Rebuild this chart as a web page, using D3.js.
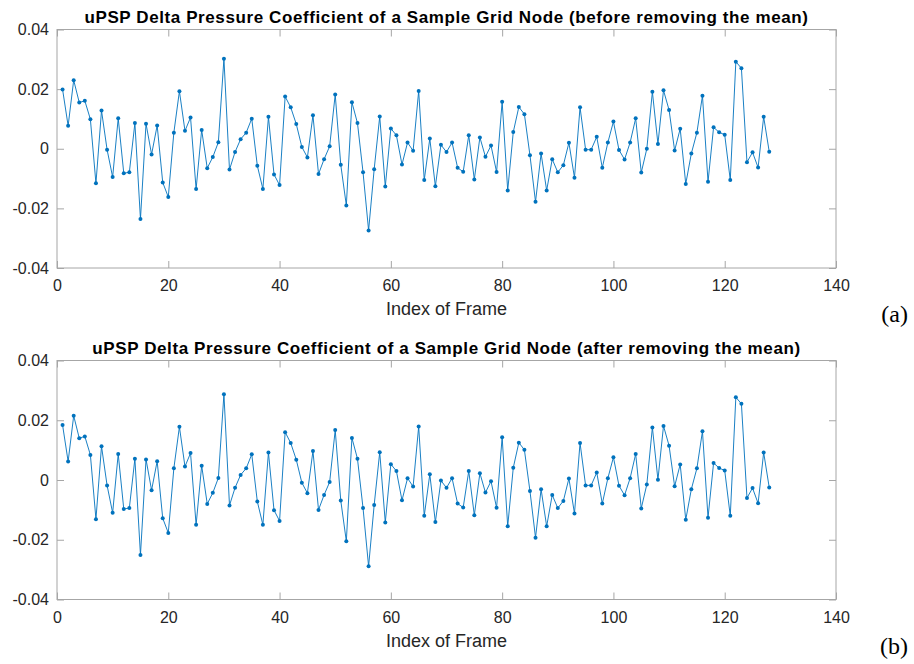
<!DOCTYPE html>
<html><head><meta charset="utf-8">
<script src="https://cdn.jsdelivr.net/npm/d3@7"></script>
<style>
html,body{margin:0;padding:0;background:#fff;}
svg{display:block;}
</style></head>
<body>
<svg id="chart" width="914" height="664"></svg>
<script>
const titles = [
  "uPSP Delta Pressure Coefficient of a Sample Grid Node (before removing the mean)",
  "uPSP Delta Pressure Coefficient of a Sample Grid Node (after removing the mean)"
];
const panelLabels = ["(a)", "(b)"];
const xLabel = "Index of Frame";
const xTicks = [0, 20, 40, 60, 80, 100, 120, 140];
const yTicks = [-0.04, -0.02, 0, 0.02, 0.04];
const yTickLabels = ["-0.04", "-0.02", "0", "0.02", "0.04"];

const beforeMean = [
0.0199,0.0077,0.0230,0.0155,0.0161,0.0099,-0.0116,0.0128,-0.0003,-0.0095,
0.0102,-0.0082,-0.0079,0.0086,-0.0236,0.0084,-0.0019,0.0078,-0.0113,-0.0162,
0.0054,0.0193,0.0060,0.0105,-0.0135,0.0063,-0.0065,-0.0028,0.0022,0.0302,
-0.0070,-0.0011,0.0032,0.0054,0.0101,-0.0057,-0.0135,0.0107,-0.0086,-0.0122,
0.0175,0.0139,0.0083,0.0006,-0.0029,0.0112,-0.0085,-0.0035,0.0008,0.0182,
-0.0054,-0.0190,0.0156,0.0086,-0.0079,-0.0274,-0.0069,0.0108,-0.0127,0.0068,
0.0045,-0.0053,0.0021,-0.0007,0.0194,-0.0105,0.0034,-0.0126,0.0013,-0.0011,
0.0021,-0.0064,-0.0077,0.0045,-0.0103,0.0038,-0.0027,0.0011,-0.0078,0.0158,
-0.0140,0.0056,0.0140,0.0116,-0.0022,-0.0178,-0.0016,-0.0140,-0.0035,-0.0079,
-0.0055,0.0020,-0.0097,0.0139,-0.0003,-0.0003,0.0040,-0.0064,0.0021,0.0091,
-0.0004,-0.0036,0.0021,0.0102,-0.0080,0.0000,0.0191,0.0016,0.0196,0.0130,
-0.0006,0.0067,-0.0118,-0.0016,0.0054,0.0178,-0.0111,0.0072,0.0055,0.0047,
-0.0105,0.0292,0.0270,-0.0045,-0.0012,-0.0063,0.0107,-0.0010];

const afterMean = [
0.0184,0.0062,0.0215,0.0140,0.0146,0.0084,-0.0131,0.0113,-0.0018,-0.0110,
0.0087,-0.0097,-0.0094,0.0071,-0.0251,0.0069,-0.0034,0.0063,-0.0128,-0.0177,
0.0039,0.0178,0.0045,0.0090,-0.0150,0.0048,-0.0080,-0.0043,0.0007,0.0287,
-0.0085,-0.0026,0.0017,0.0039,0.0086,-0.0072,-0.0150,0.0092,-0.0101,-0.0137,
0.0160,0.0124,0.0068,-0.0009,-0.0044,0.0097,-0.0100,-0.0050,-0.0007,0.0167,
-0.0069,-0.0205,0.0141,0.0071,-0.0094,-0.0289,-0.0084,0.0093,-0.0142,0.0053,
0.0030,-0.0068,0.0006,-0.0022,0.0179,-0.0120,0.0019,-0.0141,-0.0002,-0.0026,
0.0006,-0.0079,-0.0092,0.0030,-0.0118,0.0023,-0.0042,-0.0004,-0.0093,0.0143,
-0.0155,0.0041,0.0125,0.0101,-0.0037,-0.0193,-0.0031,-0.0155,-0.0050,-0.0094,
-0.0070,0.0005,-0.0112,0.0124,-0.0018,-0.0018,0.0025,-0.0079,0.0006,0.0076,
-0.0019,-0.0051,0.0006,0.0087,-0.0095,-0.0015,0.0176,0.0001,0.0181,0.0115,
-0.0021,0.0052,-0.0133,-0.0031,0.0039,0.0163,-0.0126,0.0057,0.0040,0.0032,
-0.0120,0.0277,0.0255,-0.0060,-0.0027,-0.0078,0.0092,-0.0025];

const series = [beforeMean, afterMean];

const svg = d3.select("#chart");
const left = 57, right = 836;
const panels = [{top: 29.5, bottom: 268}, {top: 360.5, bottom: 599.5}];
const lineColor = "#0072BD";
const axisColor = "#a6a6a6";
const textColor = "#262626";
const font = "'Liberation Sans', Arial, Helvetica, sans-serif";
const tickLen = 7;

panels.forEach((p, k) => {
  const data = series[k].map((v, i) => ({x: i + 1, y: v}));
  const x = d3.scaleLinear().domain([0, 140]).range([left, right]);
  const y = d3.scaleLinear().domain([-0.04, 0.04]).range([p.bottom, p.top]);
  const g = svg.append("g");

  g.append("rect").attr("x", left).attr("y", p.top)
    .attr("width", right - left).attr("height", p.bottom - p.top)
    .attr("fill", "none").attr("stroke", axisColor).attr("stroke-width", 1);

  const xb = g.append("g").attr("transform", `translate(0,${p.bottom})`)
    .call(d3.axisBottom(x).tickValues(xTicks).tickSize(-tickLen).tickPadding(12).tickFormat(d3.format("d")));
  const xt = g.append("g").attr("transform", `translate(0,${p.top})`)
    .call(d3.axisTop(x).tickValues(xTicks).tickSize(-tickLen).tickFormat(""));
  const yl = g.append("g").attr("transform", `translate(${left},0)`)
    .call(d3.axisLeft(y).tickValues(yTicks).tickSize(-tickLen).tickPadding(8).tickFormat((d, i) => yTickLabels[i]));
  const yr = g.append("g").attr("transform", `translate(${right},0)`)
    .call(d3.axisRight(y).tickValues(yTicks).tickSize(-tickLen).tickFormat(""));
  [xb, xt, yl, yr].forEach(a => {
    a.select(".domain").remove();
    a.selectAll(".tick line").attr("stroke", axisColor);
    a.selectAll(".tick text").attr("fill", textColor).style("font-family", font).style("font-size", "16px");
  });

  g.append("path").datum(data)
    .attr("fill", "none").attr("stroke", lineColor).attr("stroke-width", 0.9)
    .attr("d", d3.line().x(d => x(d.x)).y(d => y(d.y)));
  g.selectAll("circle.pt").data(data).enter().append("circle")
    .attr("class", "pt").attr("cx", d => x(d.x)).attr("cy", d => y(d.y))
    .attr("r", 2).attr("fill", lineColor);

  g.append("text").attr("x", (left + right) / 2).attr("y", p.top - 7)
    .attr("text-anchor", "middle").attr("fill", "#000")
    .style("font-family", font).style("font-weight", "bold").style("font-size", "17px")
    .style("letter-spacing", "0.6px")
    .text(titles[k]);

  g.append("text").attr("x", (left + right) / 2).attr("y", p.bottom + 47)
    .attr("text-anchor", "middle").attr("fill", textColor)
    .style("font-family", font).style("font-size", "18px")
    .text(xLabel);

  g.append("text").attr("x", 908).attr("y", p.bottom + 54)
    .attr("text-anchor", "end").attr("fill", "#000")
    .style("font-family", "'Liberation Serif', 'Times New Roman', serif").style("font-size", "24px")
    .text(panelLabels[k]);
});
</script>
</body></html>
